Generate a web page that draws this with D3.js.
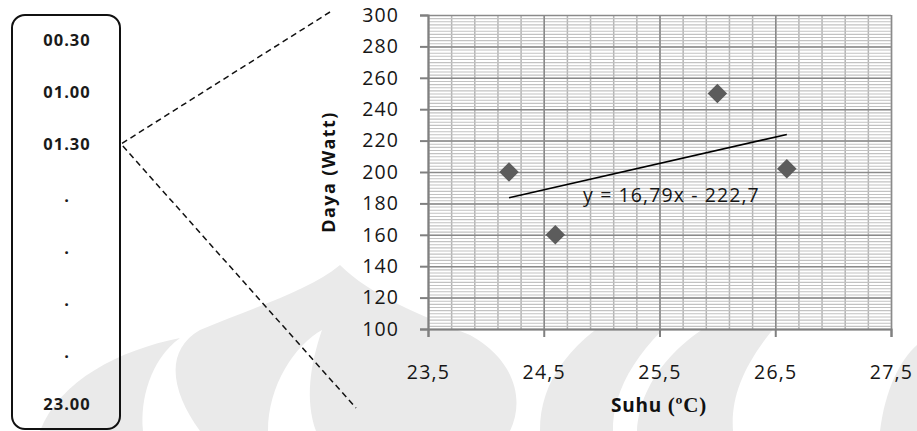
<!DOCTYPE html>
<html>
<head>
<meta charset="utf-8">
<script src="https://cdn.jsdelivr.net/npm/d3@7"></script>
<style>
  html, body { margin: 0; padding: 0; background: #fff; }
  svg { display: block; }
  text { font-family: "Open Sans", "Liberation Sans", sans-serif; }
</style>
</head>
<body>
<div id="chart"></div>
<script>
// data
const suhu = [24.2, 24.6, 26.0, 26.6]
const daya = [200, 160, 250, 202]
const trendX = [24.2, 26.6]
const trendY = [183.6, 223.9]
const trendLabel = "y = 16,79x - 222,7"
const xTicks = [23.5, 24.5, 25.5, 26.5, 27.5]
const yTicks = [100, 120, 140, 160, 180, 200, 220, 240, 260, 280, 300]
const jamLabels = ["00.30", "01.00", "01.30", ".", ".", ".", ".", "23.00"]

const width = 917
const height = 431
const margin = { left: 428, right: 26, top: 15, bottom: 102 }

const svg = d3
  .select("#chart")
  .append("svg")
  .attr("width", width)
  .attr("height", height)

// watermark in the background (rough shape)
const wm = svg.append("g").attr("fill", "#eaeaea")
wm.append("path").attr("d", "M40,431 C60,380 120,350 180,338 C150,360 140,400 143,431 Z")
wm.append("path").attr("d", "M200,431 C170,390 165,350 200,330 C260,305 310,290 340,265 C370,295 420,315 470,335 C515,360 525,400 510,431 Z")
wm.append("path").attr("fill", "#fff").attr("d", "M268,431 C268,385 295,345 322,330 C310,365 305,400 316,431 Z")
wm.append("path").attr("d", "M540,431 C540,380 570,340 640,300 L700,300 C640,340 612,390 613,431 Z")
wm.append("path").attr("d", "M637,431 C640,380 680,330 760,300 L800,300 C750,350 730,390 733,431 Z")
wm.append("path").attr("d", "M880,431 C885,390 900,360 917,345 L917,431 Z")

const x = d3.scaleLinear().domain([23.5, 27.5]).range([margin.left, width - margin.right])
const y = d3.scaleLinear().domain([100, 300]).range([height - margin.bottom, margin.top])

// plot area
svg
  .append("rect")
  .attr("x", x(23.5))
  .attr("y", y(300))
  .attr("width", x(27.5) - x(23.5))
  .attr("height", y(100) - y(300))
  .attr("fill", "#fff")

// minor grid
svg
  .append("g")
  .attr("transform", "translate(0," + y(100) + ")")
  .call(d3.axisBottom(x).tickValues(d3.range(23.5, 27.51, 0.2)).tickSize(-(y(100) - y(300))).tickFormat(""))
  .call((g) => g.select(".domain").remove())
  .selectAll("line")
  .attr("stroke", "#b4b4b4")
  .attr("stroke-width", 1.5)
svg
  .append("g")
  .attr("transform", "translate(" + x(23.5) + ",0)")
  .call(d3.axisLeft(y).tickValues(d3.range(100, 301, 2)).tickSize(-(x(27.5) - x(23.5))).tickFormat(""))
  .call((g) => g.select(".domain").remove())
  .selectAll("line")
  .attr("stroke", "#c2c2c2")
  .attr("stroke-width", 1.1)

// major grid
svg
  .append("g")
  .attr("transform", "translate(0," + y(100) + ")")
  .call(d3.axisBottom(x).tickValues(xTicks).tickSize(-(y(100) - y(300))).tickFormat(""))
  .call((g) => g.select(".domain").remove())
  .selectAll("line")
  .attr("stroke", "#8a8a8a")
  .attr("stroke-width", 1.5)
svg
  .append("g")
  .attr("transform", "translate(" + x(23.5) + ",0)")
  .call(d3.axisLeft(y).tickValues(yTicks).tickSize(-(x(27.5) - x(23.5))).tickFormat(""))
  .call((g) => g.select(".domain").remove())
  .selectAll("line")
  .attr("stroke", "#8a8a8a")
  .attr("stroke-width", 1.5)

// axes
const xAxis = svg
  .append("g")
  .attr("transform", "translate(0," + y(100) + ")")
  .call(d3.axisBottom(x).tickValues(xTicks).tickSize(8).tickPadding(28).tickFormat((d) => String(d).replace(".", ",")))
const yAxis = svg
  .append("g")
  .attr("transform", "translate(" + x(23.5) + ",0)")
  .call(d3.axisLeft(y).tickValues(yTicks).tickSize(8).tickPadding(22))
for (const g of [xAxis, yAxis]) {
  g.selectAll(".domain, line").attr("stroke", "#808080").attr("stroke-width", 2)
  g.selectAll("text")
    .attr("font-size", 19.5)
    .attr("letter-spacing", 1.2)
    .attr("fill", "#161616")
    .attr("font-family", "Open Sans")
}
// letter-spacing leaves a gap after the last glyph, pull the end-anchored labels back
yAxis.selectAll("text").attr("dx", 1.2)

// trendline
svg
  .append("path")
  .datum(d3.zip(trendX, trendY))
  .attr("d", d3.line().x((d) => x(d[0])).y((d) => y(d[1])))
  .attr("stroke", "#000")
  .attr("stroke-width", 1.6)
  .attr("fill", "none")

svg
  .append("text")
  .attr("x", x(24.84))
  .attr("y", 202)
  .attr("font-size", 19.5)
  .attr("letter-spacing", 1.1)
  .attr("fill", "#161616")
  .text(trendLabel)

// points
svg
  .append("g")
  .selectAll("path")
  .data(d3.zip(suhu, daya))
  .enter()
  .append("path")
  .attr("d", d3.symbol(d3.symbolSquare, 190))
  .attr("transform", (d) => "translate(" + x(d[0]) + "," + y(d[1]) + ") rotate(45)")
  .attr("fill", "#5c5c5c")

// axis titles
svg
  .append("text")
  .attr("transform", "translate(335,172) rotate(-90)")
  .attr("text-anchor", "middle")
  .attr("font-size", 18)
  .attr("letter-spacing", 1.4)
  .attr("font-weight", "bold")
  .attr("fill", "#111")
  .text("Daya (Watt)")

const xTitle = svg
  .append("text")
  .attr("x", 659)
  .attr("y", 412)
  .attr("text-anchor", "middle")
  .attr("font-size", 19)
  .attr("letter-spacing", 0.8)
  .attr("font-weight", "bold")
  .attr("fill", "#111")
xTitle.append("tspan").text("Suhu ")
xTitle.append("tspan").attr("font-family", "Liberation Serif").attr("font-size", 21).text("(ºC)")

// time box on the left with zoom lines
svg
  .append("rect")
  .attr("x", 12)
  .attr("y", 15)
  .attr("width", 108)
  .attr("height", 414)
  .attr("rx", 13)
  .attr("fill", "none")
  .attr("stroke", "#111")
  .attr("stroke-width", 2)

svg
  .append("g")
  .selectAll("text")
  .data(jamLabels)
  .enter()
  .append("text")
  .attr("x", 67)
  .attr("y", (d, i) => 46 + i * 52)
  .attr("text-anchor", "middle")
  .attr("font-size", 16.5)
  .attr("letter-spacing", 1)
  .attr("font-weight", "bold")
  .attr("fill", "#1a1a1a")
  .text((d) => d)

svg
  .append("path")
  .attr("d", "M330,12 L121,144 L356,408")
  .attr("fill", "none")
  .attr("stroke", "#111")
  .attr("stroke-width", 1.5)
  .attr("stroke-dasharray", "6,4")
</script>
</body>
</html>
